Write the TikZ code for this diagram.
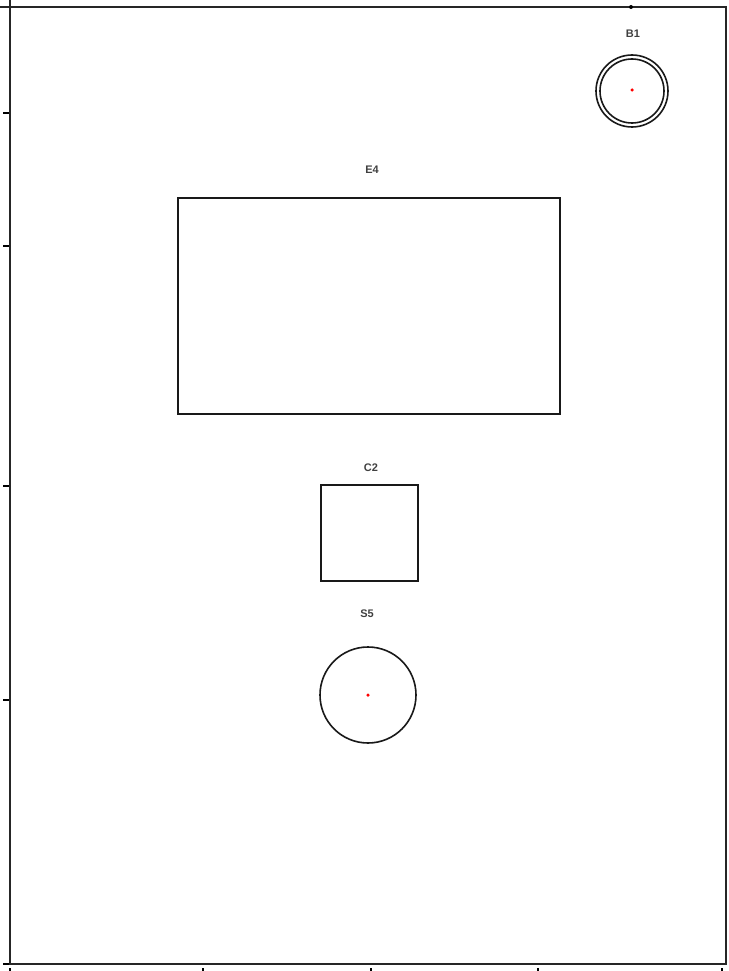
\documentclass[tikz,border=0pt]{standalone}
\usepackage{fontspec}
\setmainfont{Liberation Sans}
\begin{document}
\begin{tikzpicture}[x=1pt,y=-1pt,
  frame/.style={line width=1.8pt,draw=black!85},
  outl/.style={line width=1.6pt,draw=black!90},
  tick/.style={line width=1.2pt,draw=black},
  lbl/.style={font=\fontsize{11}{12}\selectfont\bfseries,text=black!75,inner sep=0pt},
  ctr/.style={fill=red,inner sep=0pt,minimum size=3.5pt,circle}]
\useasboundingbox (0,0) rectangle (728,971);
% frame
\coordinate (tl) at (10,7);
\coordinate (tr) at (726,7);
\coordinate (br) at (726,964);
\coordinate (bl) at (10,964);
\draw[frame] (tl) -- (tr) -- (br) -- (bl) -- cycle;
\draw[frame] (10,0) -- (tl);
\draw[frame] (0,7) -- (tl);
% left ticks
\foreach \yy in {113,246,486,700,964} \draw[tick] (3,\yy) -- (9,\yy);
% bottom ticks
\foreach \xx in {10,203,371,538,722} \draw[tick] (\xx,968) -- (\xx,971);
% top marker
\fill (631,7) circle (2pt);
% B1
\node[lbl] (b1l) at (633,34) {B1};
\node[circle,outl,minimum size=72pt,inner sep=0pt] (b1o) at (632,91) {};
\node[circle,outl,minimum size=64pt,inner sep=0pt] (b1i) at (632,91) {};
\node[ctr] (b1c) at (632,90) {};
% E4
\node[lbl] (e4l) at (372,170) {E4};
\node[outl,rectangle,minimum width=382pt,minimum height=216pt,inner sep=0pt] (e4) at (369,306) {};
% C2
\node[lbl] (c2l) at (371,468) {C2};
\node[outl,rectangle,minimum width=97pt,minimum height=96pt,inner sep=0pt] (c2) at (369.5,533) {};
% S5
\node[lbl] (s5l) at (367,614) {S5};
\node[circle,outl,minimum size=96pt,inner sep=0pt] (s5) at (368,695) {};
\node[ctr] (s5c) at (368,695) {};
\end{tikzpicture}
\end{document}
